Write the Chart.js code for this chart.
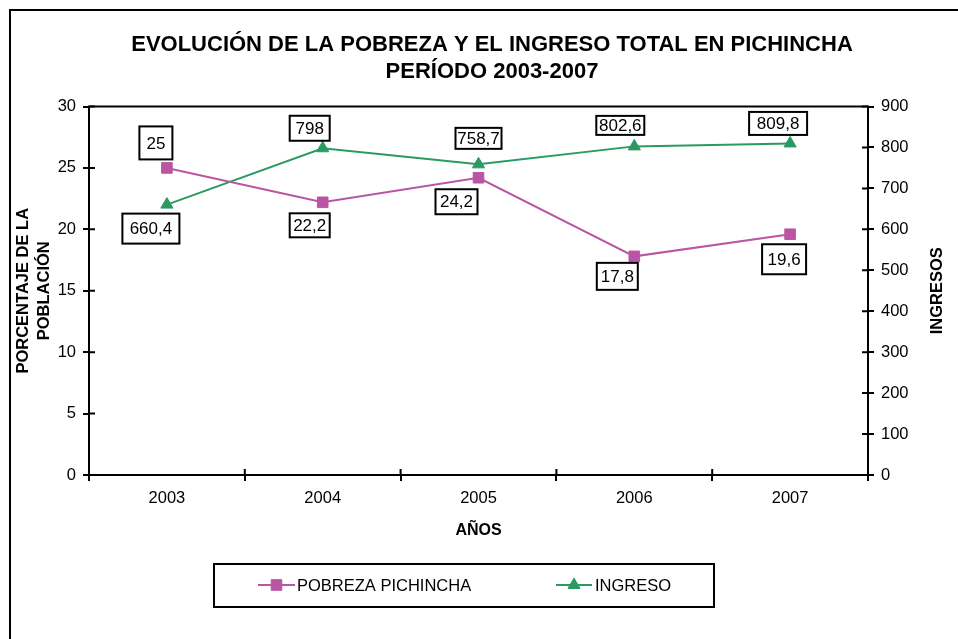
<!DOCTYPE html>
<html>
<head>
<meta charset="utf-8">
<script src="https://cdn.jsdelivr.net/npm/chart.js@4/dist/chart.umd.min.js"></script>
<style>
  body { margin: 0; background: #fff; }
  canvas { display: block; }
</style>
</head>
<body>
<canvas id="pobrezaChart" width="958" height="639"></canvas>
<script>
// datos
const years = ['2003', '2004', '2005', '2006', '2007'];
const pobrezaPichincha = [25, 22.2, 24.2, 17.8, 19.6];
const ingreso = [660.4, 798, 758.7, 802.6, 809.8];
const titleLines = ['EVOLUCIÓN DE LA POBREZA Y EL INGRESO TOTAL EN PICHINCHA', 'PERÍODO 2003-2007'];

const pink = '#BA55A3';
const green = '#2A9A62';
const fontFamily = '"Liberation Sans", Arial, sans-serif';

// caja de cada etiqueta: [dx, dy, ancho, alto] relativo al punto
const pobrezaLabelBoxes = [[-11, -25, 33, 33], [-13, 23, 40, 24], [-22, 24, 42, 25], [-17, 20, 41, 27], [-6, 25, 44, 30]];
const ingresoLabelBoxes = [[-16, 24, 57, 30], [-13, -20, 40, 25], [0, -26, 46, 21], [-14, -21, 48, 19], [-12, -20, 58, 23]];

const fmt = v => String(v).replace('.', ',');

function drawLegend(chart) {
    const ctx = chart.ctx;
    ctx.save();
    ctx.strokeStyle = '#000';
    ctx.lineWidth = 2;
    ctx.strokeRect(214, 564, 500, 43);
    const items = [
        { ds: chart.data.datasets[0], x0: 258, x1: 295, tx: 297 },
        { ds: chart.data.datasets[1], x0: 556, x1: 592, tx: 595 }
    ];
    const ly = 585;
    items.forEach(it => {
        ctx.strokeStyle = it.ds.borderColor;
        ctx.fillStyle = it.ds.backgroundColor;
        ctx.lineWidth = 2;
        ctx.beginPath();
        ctx.moveTo(it.x0, ly); ctx.lineTo(it.x1, ly);
        ctx.stroke();
        ctx.lineWidth = 1;
        Chart.helpers.drawPoint(ctx, {
            pointStyle: it.ds.pointStyle,
            radius: it.ds.pointRadius,
            borderWidth: 1
        }, (it.x0 + it.x1) / 2, ly);
        ctx.fillStyle = '#000';
        ctx.font = '16.5px ' + fontFamily;
        ctx.textAlign = 'left';
        ctx.textBaseline = 'middle';
        ctx.fillText(it.ds.label, it.tx, ly + 1);
    });
    ctx.restore();
}

const pagePlugin = {
    id: 'page',
    beforeDraw(chart) {
        const ctx = chart.ctx;
        ctx.save();
        ctx.fillStyle = '#fff';
        ctx.fillRect(0, 0, chart.width, chart.height);
        ctx.strokeStyle = '#000';
        ctx.lineWidth = 2;
        ctx.strokeRect(10, 10, chart.width + 40, chart.height + 40);
        ctx.restore();
    },
    afterDatasetsDraw(chart) {
        const ctx = chart.ctx;
        const boxes = [pobrezaLabelBoxes, ingresoLabelBoxes];
        ctx.save();
        ctx.font = '17px ' + fontFamily;
        ctx.textAlign = 'center';
        ctx.textBaseline = 'middle';
        chart.data.datasets.forEach((ds, di) => {
            const meta = chart.getDatasetMeta(di);
            meta.data.forEach((pt, i) => {
                const [dx, dy, w, h] = boxes[di][i];
                const cx = pt.x + dx, cy = pt.y + dy;
                ctx.fillStyle = '#fff';
                ctx.fillRect(cx - w / 2, cy - h / 2, w, h);
                ctx.strokeStyle = '#000';
                ctx.lineWidth = 2;
                ctx.strokeRect(cx - w / 2, cy - h / 2, w, h);
                ctx.fillStyle = '#000';
                ctx.fillText(fmt(ds.data[i]), cx, cy + 1);
            });
        });
        ctx.restore();
    },
    afterDraw(chart) {
        const ctx = chart.ctx;
        const area = chart.chartArea;
        ctx.save();
        ctx.strokeStyle = '#000';
        ctx.lineWidth = 2;
        ctx.strokeRect(area.left, area.top, area.right - area.left, area.bottom - area.top);

        // marcas interiores (los ticks cruzan el eje)
        ctx.beginPath();
        const y = chart.scales.y, y1 = chart.scales.y1, x = chart.scales.x;
        y.ticks.forEach(t => {
            const py = y.getPixelForValue(t.value);
            ctx.moveTo(area.left, py); ctx.lineTo(area.left + 6, py);
        });
        y1.ticks.forEach(t => {
            const py = y1.getPixelForValue(t.value);
            ctx.moveTo(area.right - 6, py); ctx.lineTo(area.right, py);
        });
        for (let i = 0; i <= years.length; i++) {
            const px = x.getPixelForValue(i - 0.5);
            ctx.moveTo(px, area.bottom - 6); ctx.lineTo(px, area.bottom);
        }
        ctx.stroke();

        // título eje derecho (de abajo hacia arriba)
        ctx.translate(937, (area.top + area.bottom) / 2);
        ctx.rotate(-Math.PI / 2);
        ctx.fillStyle = '#000';
        ctx.font = 'bold 16.5px ' + fontFamily;
        ctx.textAlign = 'center';
        ctx.textBaseline = 'middle';
        ctx.fillText('INGRESOS', 0, 0);
        ctx.restore();

        drawLegend(chart);
    }
};

const tickFont = { family: fontFamily, size: 16.5 };

new Chart(document.getElementById('pobrezaChart'), {
    type: 'line',
    data: {
        labels: years,
        datasets: [
            {
                label: 'POBREZA PICHINCHA',
                data: pobrezaPichincha,
                yAxisID: 'y',
                borderColor: pink,
                backgroundColor: pink,
                borderWidth: 2,
                pointStyle: 'rect',
                pointRadius: 7.5,
                pointBorderWidth: 1,
                tension: 0
            },
            {
                label: 'INGRESO',
                data: ingreso,
                yAxisID: 'y1',
                borderColor: green,
                backgroundColor: green,
                borderWidth: 2,
                pointStyle: 'triangle',
                pointRadius: 7,
                pointBorderWidth: 1,
                tension: 0
            }
        ]
    },
    options: {
        responsive: false,
        animation: false,
        devicePixelRatio: 1,
        layout: { padding: { left: 26, right: 0, top: 31, bottom: 94 } },
        plugins: {
            legend: { display: false },
            tooltip: { enabled: false },
            title: {
                display: true,
                text: titleLines,
                color: '#000',
                font: { family: fontFamily, size: 22, weight: 'bold', lineHeight: '27px' },
                padding: { top: 0, bottom: 21.5 }
            }
        },
        scales: {
            x: {
                offset: true,
                grid: { offset: true, drawOnChartArea: false, color: '#000', lineWidth: 2, tickLength: 6 },
                border: { color: '#000', width: 2 },
                ticks: { color: '#000', font: tickFont, padding: 8 },
                title: {
                    display: true, text: 'AÑOS', color: '#000',
                    font: { family: fontFamily, size: 16, weight: 'bold', lineHeight: 1.2 },
                    padding: { top: 0, bottom: 5 }
                },
                afterFit(scale) { scale.height = 70; }
            },
            y: {
                position: 'left',
                min: 0, max: 30,
                grid: { drawOnChartArea: false, color: '#000', lineWidth: 2, tickLength: 6 },
                border: { color: '#000', width: 2 },
                ticks: { stepSize: 5, color: '#000', font: tickFont, padding: 7 },
                title: {
                    display: true, text: ['PORCENTAJE DE LA', 'POBLACIÓN'], color: '#000',
                    font: { family: fontFamily, size: 16.5, weight: 'bold', lineHeight: '21px' },
                    padding: { top: -13, bottom: 0 }
                },
                afterFit(scale) { scale.width = 63; }
            },
            y1: {
                position: 'right',
                min: 0, max: 900,
                grid: { drawOnChartArea: false, color: '#000', lineWidth: 2, tickLength: 6 },
                border: { color: '#000', width: 2 },
                ticks: { stepSize: 100, color: '#000', font: tickFont, padding: 7 },
                afterFit(scale) { scale.width = 90; }
            }
        }
    },
    plugins: [pagePlugin]
});
</script>
</body>
</html>
